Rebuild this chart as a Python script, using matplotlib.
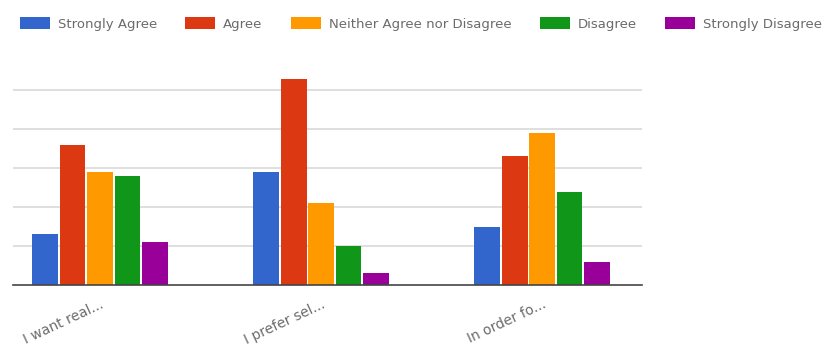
import matplotlib
matplotlib.use("Agg")
import matplotlib.pyplot as plt
from matplotlib.patches import Patch
import numpy as np

categories = ["I want real...", "I prefer sel...", "In order fo..."]
series_names = ["Strongly Agree", "Agree", "Neither Agree nor Disagree",
                "Disagree", "Strongly Disagree"]
strongly_agree = [13, 29, 15]
agree = [36, 53, 33]
neither = [29, 21, 39]
disagree = [28, 10, 24]
strongly_disagree = [11, 3, 6]
series_values = [strongly_agree, agree, neither, disagree, strongly_disagree]
colors = ["#3366cc", "#dc3912", "#ff9900", "#109618", "#990099"]

text_color = "#6b6b6b"
plt.rcParams["font.family"] = ["DejaVu Sans"]

fig = plt.figure(figsize=(8.28, 3.49), dpi=100)
W, H = 828, 349
left, right, base, top = 13, 642, 285, 63
ax = fig.add_axes([left / W, 1 - base / H, (right - left) / W, (base - top) / H])

x = np.arange(len(categories))
pitch = 0.124
width = 0.116
n = len(series_values)
for i, (vals, col) in enumerate(zip(series_values, colors)):
    ax.bar(x + (i - (n - 1) / 2) * pitch, vals, width=width, color=col, zorder=3)

ax.set_xlim(-0.394, 2.452)
ax.set_ylim(0, 57)
ax.set_yticks([10, 20, 30, 40, 50])
ax.yaxis.grid(True, color="#d9d9d9", linewidth=1.2, zorder=0)
ax.tick_params(axis="y", length=0, labelleft=False)
for s in ["top", "right", "left"]:
    ax.spines[s].set_visible(False)
ax.spines["bottom"].set_color("#444444")
ax.spines["bottom"].set_linewidth(1.2)
ax.spines["bottom"].set_zorder(4)

ax.set_xticks(x)
ax.set_xticklabels(categories, rotation=25, ha="right", rotation_mode="anchor",
                   color=text_color, fontsize=10)
ax.tick_params(axis="x", length=0, pad=9)

handles = [Patch(facecolor=c, edgecolor="none") for c in colors]
fig.legend(handles, series_names, loc="center left", bbox_to_anchor=(20 / W, 1 - 24 / H),
           ncol=5, frameon=False, fontsize=9.5, labelcolor=text_color,
           handlelength=2.27, handleheight=1.06, handletextpad=0.6,
           columnspacing=2.15, borderaxespad=0, borderpad=0)

fig.savefig("out.png", dpi=100, facecolor="white")
